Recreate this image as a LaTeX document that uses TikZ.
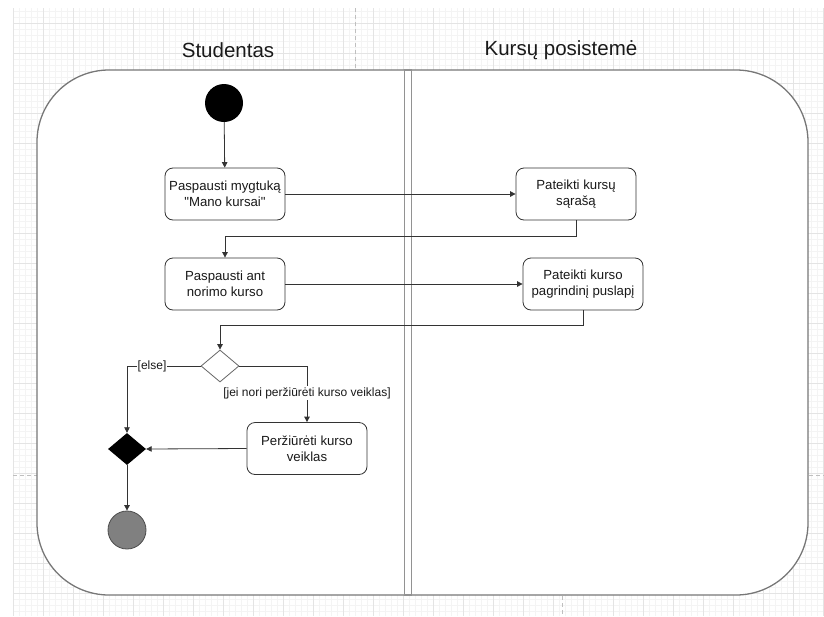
\documentclass[tikz,border=0pt]{standalone}
\usepackage{fontspec}
\setmainfont{Liberation Sans}[Ligatures=TeXOff]
\usetikzlibrary{arrows.meta,shapes.geometric}
\definecolor{gridminor}{HTML}{F4F4F4}
\definecolor{gridmajor}{HTML}{E4E4E4}
\definecolor{ink}{HTML}{333333}
\definecolor{poolline}{HTML}{777777}
\begin{document}
\begin{tikzpicture}[x=1pt,y=-1pt,
  minorline/.style={draw=gridminor, line width=0.6pt},
  majorline/.style={draw=gridmajor, line width=0.8pt},
  pagebreak/.style={draw=black!25, line width=0.8pt, dash pattern=on 4pt off 3pt},
  lanetitle/.style={font=\fontsize{20.5}{24}\selectfont, text=black!90},
  actbox/.style={draw=ink, line width=0.8pt, rounded corners=8pt, fill=white,
    minimum width=120pt, minimum height=52pt, inner sep=2pt, align=center,
    font=\fontsize{13.2}{15.7}\selectfont, text=black!90},
  flow/.style={draw=ink, line width=0.8pt, -{Triangle[width=5.5pt,length=5.5pt]}},
  guard/.style={font=\fontsize{12}{14}\selectfont, fill=white, inner sep=1pt, text=black!90},
]
\useasboundingbox (0,0) rectangle (824,616);

% background grid
\foreach \gx in {13,19,...,824} \draw[minorline] (\gx,8) -- (\gx,616);
\foreach \gy in {11,17,...,616} \draw[minorline] (13,\gy) -- (824,\gy);
\foreach \gx in {13,43,...,824} \draw[majorline] (\gx,8) -- (\gx,616);
\foreach \gy in {23,53,...,616} \draw[majorline] (13,\gy) -- (824,\gy);

% page break markers
\draw[pagebreak] (355,8) -- (355,70);
\draw[pagebreak] (562,596) -- (562,616);
\draw[pagebreak] (13,475) -- (37,475);
\draw[pagebreak] (809,475) -- (824,475);

% pool with two lanes
\node[draw=poolline, line width=1.3pt, fill=white, rounded corners=72pt,
      minimum width=771pt, minimum height=525pt, inner sep=0pt] (pool) at (422.5,332.5) {};
\node[draw=poolline!80, line width=1.1pt, minimum width=7pt, minimum height=525pt,
      inner sep=0pt] (divider) at (408,332.5) {};

\node[lanetitle] (lane1) at (228,50) {Studentas};
\node[lanetitle] (lane2) at (561,50) {Kursų posistemė};

% activity nodes
\node[circle, fill=black, minimum size=38pt, inner sep=0pt] (start) at (224,103) {};
\node[actbox] (a1) at (225,194) {Paspausti mygtuką\\"Mano kursai"};
\node[actbox] (a2) at (576,194) {Pateikti kursų\\sąrašą};
\node[actbox] (a3) at (225,284) {Paspausti ant\\norimo kurso};
\node[actbox] (a4) at (583,284) {Pateikti kurso\\pagrindinį puslapį};
\node[diamond, draw=black!60, line width=0.8pt, fill=white, minimum width=38pt,
      minimum height=32pt, inner sep=0pt] (dec) at (220,366) {};
\node[actbox] (a5) at (307,448.5) {Peržiūrėti kurso\\veiklas};
\node[diamond, fill=black, minimum width=38pt, minimum height=32pt,
      inner sep=0pt] (merge) at (127,449) {};
\node[circle, fill=black!50, draw=black!70, line width=0.8pt, minimum size=38pt,
      inner sep=0pt] (stop) at (127,530) {};

\coordinate (bend1) at (225,236);
\coordinate (bend2) at (220,325);

% control flow
\draw[flow] (start) -- (a1);
\draw[flow] (a1) -- (a2);
\draw[flow] (a2.south) |- (bend1) -- (a3.north);
\draw[flow] (a3) -- (a4);
\draw[flow] (a4.south) |- (bend2) -- (dec.north);
\draw[flow] (dec.west) -| (merge.north) node[guard, pos=0.33] {[else]};
\draw[flow] (dec.east) -| (a5.north) node[guard, pos=0.74] {[jei nori peržiūrėti kurso veiklas]};
\draw[flow] (a5.west) -- (merge.east);
\draw[flow] (merge.south) -- (stop);
\end{tikzpicture}
\end{document}
